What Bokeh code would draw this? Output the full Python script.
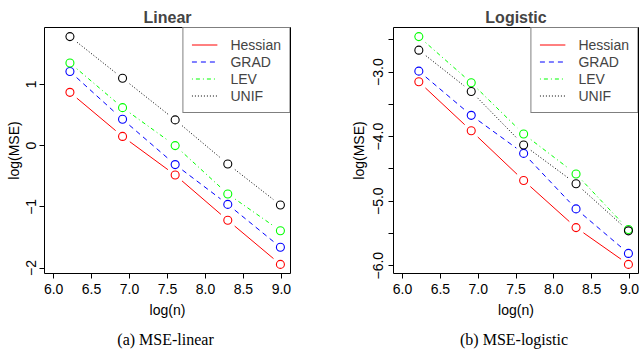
import math
from bokeh.plotting import figure
from bokeh.layouts import row
from bokeh.models import (Range1d, FixedTicker, Legend, LegendItem,
                          LinearAxis)
from bokeh.embed import file_html
from bokeh.resources import INLINE

# ---------------- data ----------------
log_n = [6.215, 6.908, 7.601, 8.294, 8.987]

lin_hessian = [0.87, 0.15, -0.48, -1.22, -1.94]
lin_grad = [1.21, 0.43, -0.31, -0.96, -1.66]
lin_lev = [1.35, 0.62, 0.00, -0.79, -1.39]
lin_unif = [1.78, 1.10, 0.42, -0.30, -0.97]

log_hessian = [-3.15, -3.91, -4.68, -5.41, -5.98]
log_grad = [-2.985, -3.67, -4.26, -5.12, -5.81]
log_lev = [-2.45, -3.165, -3.96, -4.58, -5.44]
log_unif = [-2.66, -3.30, -4.13, -4.73, -5.46]

series_names = ["Hessian", "GRAD", "LEV", "UNIF"]

x_ticks = [6.0, 6.5, 7.0, 7.5, 8.0, 8.5, 9.0]
x_labels = ["6.0", "6.5", "7.0", "7.5", "8.0", "8.5", "9.0"]
lin_y_ticks = [-2, -1, 0, 1]
lin_y_labels = ["\u22122", "\u22121", "0", "1"]
log_y_ticks = [-6.0, -5.5, -5.0, -4.5, -4.0, -3.5, -3.0, -2.5]
log_y_labels = ["\u22126.0", "", "\u22125.0", "", "\u22124.0", "", "\u22123.0", ""]

colors = ["#FF0000", "#0000FF", "#00FF00", "#000000"]
dashes = ["solid", "5 4", "1 3 4 3", "1 2"]

SANS = "Liberation Sans"
SERIF = "Liberation Serif"
FRAME_H = 246
TOP = 27
HEIGHT = 353
GAP = 9.0


def make_panel(title, caption, ys, y_ticks, y_labels, width, bl, br,
               ylab_standoff, yaxlab_standoff):
    frame_w = width - bl - br
    xlo, xhi = 6.0, 9.0
    xs = 0.04 * (xhi - xlo)
    allv = [v for s in ys for v in s]
    ylo, yhi = min(allv), max(allv)
    ysp = 0.04 * (yhi - ylo)
    x_rng = Range1d(xlo - xs, xhi + xs)
    y_rng = Range1d(ylo - ysp, yhi + ysp)
    p = figure(width=width, height=HEIGHT, x_range=x_rng, y_range=y_rng,
               output_backend="svg", toolbar_location=None,
               min_border_left=bl, min_border_right=br,
               min_border_top=TOP, min_border_bottom=HEIGHT - TOP - FRAME_H)
    p.background_fill_color = "white"
    p.border_fill_color = "white"
    p.outline_line_color = "black"
    p.outline_line_width = 1
    p.xgrid.visible = False
    p.ygrid.visible = False

    p.title.text = title
    p.title.align = "center"
    p.title.text_font = SANS
    p.title.text_font_size = "16px"
    p.title.text_font_style = "bold"
    p.title.standoff = 4

    pxx = frame_w / (x_rng.end - x_rng.start)
    pxy = FRAME_H / (y_rng.end - y_rng.start)

    items = []
    for name, vals, c, d in zip(series_names, ys, colors, dashes):
        x0s, y0s, x1s, y1s = [], [], [], []
        for i in range(len(log_n) - 1):
            ax, ay, bx, by = log_n[i], vals[i], log_n[i + 1], vals[i + 1]
            L = math.hypot((bx - ax) * pxx, (by - ay) * pxy)
            f = GAP / L
            x0s.append(ax + (bx - ax) * f)
            y0s.append(ay + (by - ay) * f)
            x1s.append(bx - (bx - ax) * f)
            y1s.append(by - (by - ay) * f)
        seg = p.segment(x0=x0s, y0=y0s, x1=x1s, y1=y1s, line_color=c,
                        line_width=1, line_dash=d)
        p.scatter(x=log_n, y=vals, marker="circle", size=8, fill_color=None,
                  line_color=c, line_width=1.1)
        items.append(LegendItem(label=name, renderers=[seg]))

    leg = Legend(items=items, location="top_right", margin=0, padding=8,
                 spacing=0, glyph_width=26, glyph_height=17, label_height=17,
                 label_standoff=13, label_text_font=SANS,
                 label_text_font_size="14px", border_line_color="black",
                 border_line_width=1, background_fill_color="white",
                 background_fill_alpha=1.0)
    p.add_layout(leg)

    for ax in (p.xaxis[0], p.yaxis[0]):
        ax.axis_line_color = None
        ax.major_tick_out = 5
        ax.major_tick_in = 0
        ax.minor_tick_line_color = None
        ax.major_tick_line_color = "black"
        ax.major_label_text_font = SANS
        ax.major_label_text_font_size = "14px"
        ax.major_label_text_color = "black"
        ax.axis_label_text_font = SANS
        ax.axis_label_text_font_size = "14px"
        ax.axis_label_text_font_style = "normal"
        ax.axis_label_text_color = "black"

    p.xaxis.ticker = FixedTicker(ticks=x_ticks)
    p.xaxis.major_label_overrides = {t: l for t, l in zip(x_ticks, x_labels)}
    p.xaxis.axis_label = "log(n)"
    p.xaxis.major_label_standoff = 5
    p.xaxis.axis_label_standoff = 5

    p.yaxis.ticker = FixedTicker(ticks=y_ticks)
    p.yaxis.major_label_overrides = {t: l for t, l in zip(y_ticks, y_labels)}
    p.yaxis.major_label_orientation = "vertical"
    p.yaxis.axis_label = "log(MSE)"
    p.yaxis.major_label_standoff = ylab_standoff
    p.yaxis.axis_label_standoff = yaxlab_standoff

    # sub-figure caption, drawn as the label of a tick-less axis below
    cap = LinearAxis(ticker=FixedTicker(ticks=[]), axis_label=caption,
                     axis_line_color=None, major_tick_line_color=None,
                     minor_tick_line_color=None, major_tick_out=0,
                     major_tick_in=0, minor_tick_out=0, minor_tick_in=0,
                     major_label_standoff=0, axis_label_standoff=10,
                     axis_label_text_font=SERIF,
                     axis_label_text_font_size="16px",
                     axis_label_text_font_style="normal",
                     axis_label_text_color="black")
    p.add_layout(cap, "below")
    return p


p1 = make_panel("Linear", "(a)  MSE-linear",
                [lin_hessian, lin_grad, lin_lev, lin_unif],
                lin_y_ticks, lin_y_labels, 320, 44, 30, 3, 2)
p2 = make_panel("Logistic", "(b)  MSE-logistic",
                [log_hessian, log_grad, log_lev, log_unif],
                log_y_ticks, log_y_labels, 320, 73, 2, 5, 4)

layout = row(p1, p2)
open("out.html", "w").write(file_html(layout, INLINE))
